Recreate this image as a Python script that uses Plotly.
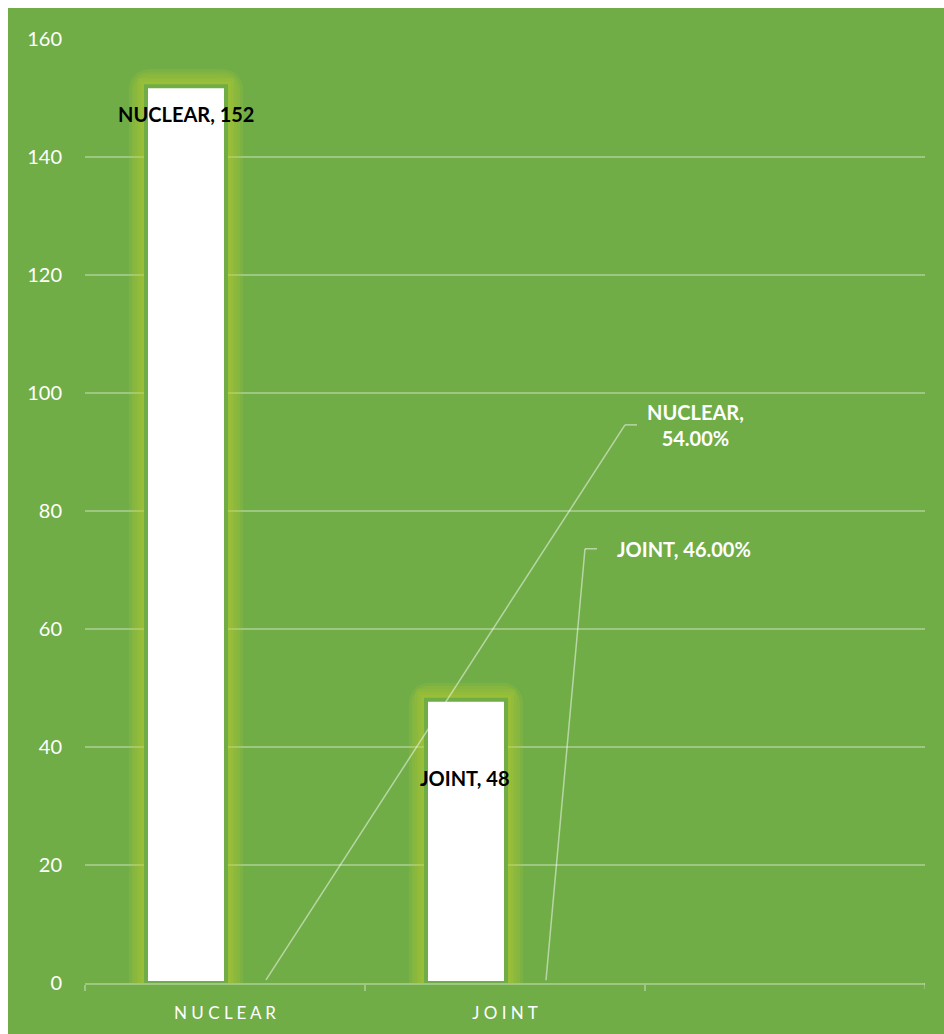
import plotly.graph_objects as go

# Data
categories = ["NUCLEAR", "JOINT"]
counts = [152, 48]
shares = [0.54, 0.46]
share_text = ["NUCLEAR,<br>54.00%", "JOINT, 46.00%"]
count_text = ["NUCLEAR, 152", "JOINT, 48"]
y_ticks = [0, 20, 40, 60, 80, 100, 120, 140, 160]

# Style / geometry
W, H = 944, 1034
ML, MR, MT, MB = 85, 19, 39, 51
PW, PH = W - ML - MR, H - MT - MB
GREEN = "#70AD47"
GRID = "rgba(255,255,255,0.32)"
FONT = "Lato, 'Open Sans', sans-serif"

px_x = 1.0 / PW * 3        # category units per pixel (3 slots across the plot)
px_y = 160.0 / PH          # value units per pixel

BAR_W = 80 * px_x
BAR_OFF = -79 * px_x
SHARE_OFF = 1 * px_x

fig = go.Figure()

# soft yellow glow behind the count bars
for e in [17, 14, 11, 8, 5, 2]:
    fig.add_trace(go.Bar(
        x=categories, y=[v + e * px_y for v in counts],
        width=BAR_W + 2 * e * px_x, offset=BAR_OFF - e * px_x,
        marker=dict(color="rgba(188,208,48,0.15)", line=dict(width=0),
                    cornerradius=e + 3),
        hoverinfo="skip", showlegend=False))

# count bars
fig.add_trace(go.Bar(
    x=categories, y=counts, width=BAR_W, offset=BAR_OFF,
    marker=dict(color="white", line=dict(color=GREEN, width=4)),
    showlegend=False, name="Count"))

# share bars (no fill, they only anchor the percentage labels)
fig.add_trace(go.Bar(
    x=categories, y=shares, width=BAR_W, offset=SHARE_OFF,
    marker=dict(color="rgba(0,0,0,0)", line=dict(width=0)),
    showlegend=False, name="Share"))

shapes = []
annotations = []

# count labels: (x offset from category centre, drop below bar top) in value units
count_pos = [(-0.139, 4.7), (-0.143, 13.3)]
for i, (cat, v) in enumerate(zip(categories, counts)):
    dx, dy = count_pos[i]
    annotations.append(dict(
        x=i + dx, y=v - dy, xref="x", yref="y", text=f"<b>{count_text[i]}</b>",
        showarrow=False, font=dict(family=FONT, size=20, color="black"),
        xanchor="center", yanchor="middle"))

# percentage labels with leader lines: elbow point, label start (value units)
leader = [((1.4286, 94.6), 1.4714), ((1.2857, 73.6), 1.3286)]
label_left = [1.50, 1.393]
for i, s in enumerate(shares):
    x0 = i + SHARE_OFF + BAR_W / 2
    (ex, ey), hx = leader[i]
    line = dict(color="rgba(255,255,255,0.5)", width=1.5)
    shapes.append(dict(type="line", xref="x", yref="y", x0=x0, y0=s,
                       x1=ex, y1=ey, line=line, layer="above"))
    shapes.append(dict(type="line", xref="x", yref="y", x0=ex, y0=ey,
                       x1=hx, y1=ey, line=line, layer="above"))
    annotations.append(dict(
        x=label_left[i], y=ey, xref="x", yref="y", text=f"<b>{share_text[i]}</b>",
        showarrow=False, align="center",
        font=dict(family=FONT, size=20, color="white"),
        xanchor="left", yanchor="middle"))

# closing tick mark at the right end of the category axis
shapes.append(dict(type="line", xref="x", yref="paper", x0=2.5, x1=2.5,
                   y0=0, y1=-6 / PH, line=dict(color=GRID, width=1.5)))

# white frame strips on the top and left edges of the page
shapes.append(dict(type="rect", xref="paper", yref="paper",
                   x0=-ML / PW, x1=(8 - ML) / PW,
                   y0=-MB / PH, y1=(PH + MT) / PH,
                   fillcolor="white", line=dict(width=0), layer="below"))
shapes.append(dict(type="rect", xref="paper", yref="paper",
                   x0=-ML / PW, x1=(W - ML) / PW,
                   y0=(PH + MT - 8) / PH, y1=(PH + MT) / PH,
                   fillcolor="white", line=dict(width=0), layer="below"))

fig.update_layout(
    width=W, height=H,
    margin=dict(l=ML, r=MR, t=MT, b=MB, pad=0),
    paper_bgcolor=GREEN, plot_bgcolor=GREEN,
    barmode="overlay",
    font=dict(family=FONT, color="white"),
    shapes=shapes, annotations=annotations,
    xaxis=dict(
        type="category", categoryorder="array", categoryarray=categories,
        range=[-0.5, 2.5],
        ticks="", showline=True, linecolor=GRID, linewidth=1.5,
        showgrid=False, zeroline=False,
        tickvals=[0, 1], ticktext=[" ".join(c) for c in categories],
        tickfont=dict(family=FONT, size=17, color="white"),
        ticklabelstandoff=14,
        minor=dict(tickvals=[-0.5, 0.5, 1.5], ticks="outside",
                   ticklen=6, tickwidth=1.5, tickcolor=GRID, showgrid=False)),
    yaxis=dict(
        range=[0, 160], tickvals=y_ticks, ticks="",
        showgrid=True, gridcolor=GRID, gridwidth=1.5,
        zeroline=False, showline=False,
        tickfont=dict(family=FONT, size=20, color="white"),
        ticklabelstandoff=22),
)

fig.write_html("out.html")
